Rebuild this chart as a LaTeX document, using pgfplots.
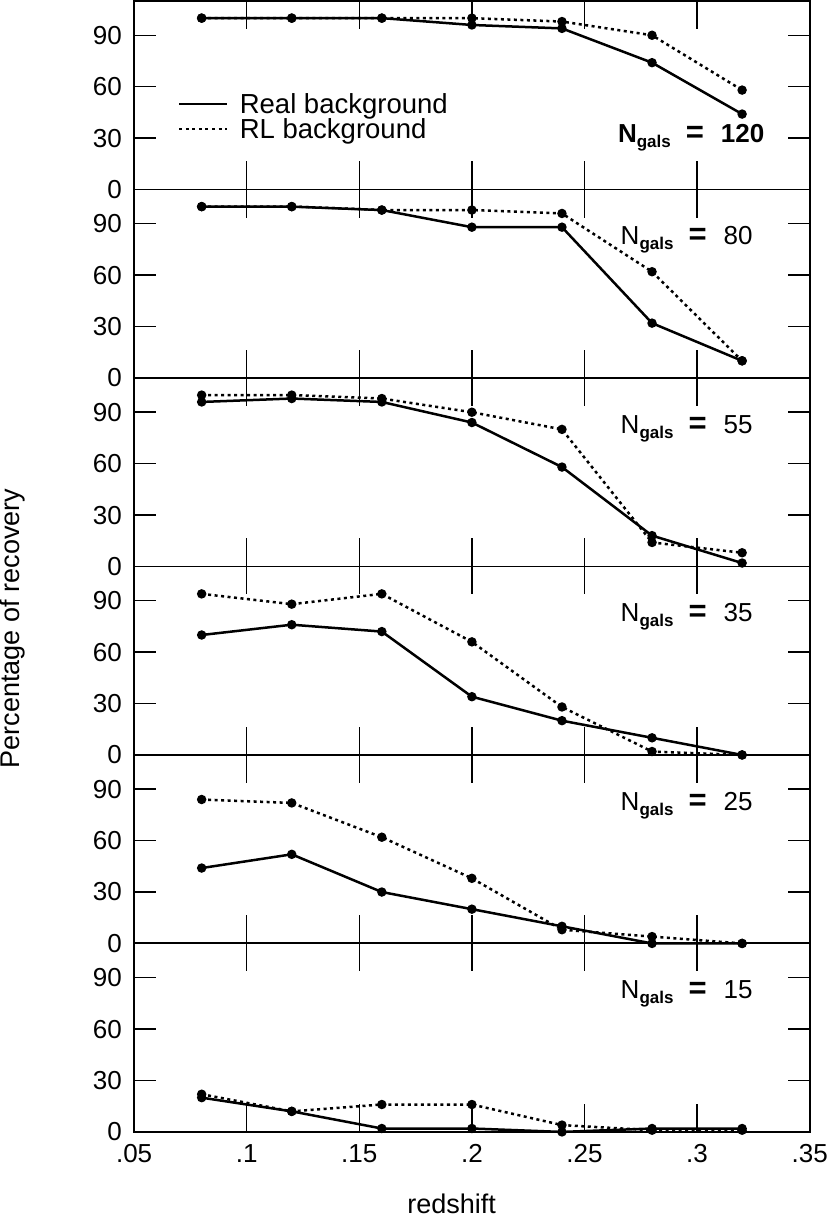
\documentclass[border=0pt]{standalone}
\usepackage{fontspec}
\setmainfont{Liberation Sans}
\usepackage{pgfplots}
\pgfplotsset{compat=1.18}
\pgfplotsset{
  panel/.style={
    width=675pt, height=188.333pt, scale only axis,
    xmin=0.05, xmax=0.35, ymin=0, ymax=110,
    xtick={0.05,0.1,0.15,0.2,0.25,0.3,0.35},
    ytick={0,30,60,90},
    xticklabels={},
    tick align=inside, xtick pos=both, ytick pos=both,
    yticklabel pos=left,
    axis line style={line width=1.9pt},
    every tick/.style={black, line width=1.5pt},
    xtick style={/pgfplots/major tick length=28pt},
    ytick style={/pgfplots/major tick length=22pt},
    /pgf/number format/assume math mode=true,
    yticklabel style={inner sep=0pt, xshift=-12pt},
    xticklabel style={inner sep=0pt, yshift=-12pt},
    anchor=south west, clip=false,
  },
  real/.style={black, line width=2.5pt, mark=*, mark size=3.4pt},
  rl/.style={black, line width=2.5pt, dash pattern=on 3pt off 3.5pt, mark=*, mark size=3.4pt, mark options={solid}},
}
\newcommand{\ngals}[1]{N\raisebox{-5pt}{\fontsize{17}{17}\selectfont\bfseries gals}\hspace{15pt}{\fontsize{31}{31}\selectfont\bfseries=}\hspace{17pt}#1}
\begin{document}
\begin{tikzpicture}[font=\fontsize{26}{31}\selectfont]
\useasboundingbox (-134pt,-86pt) rectangle (696pt,1131pt);

% Panel 1: N=120
\begin{axis}[panel, at={(0pt,941.667pt)},
  legend style={at={(axis description cs:0.065,0.52)}, anchor=north west, draw=none, fill=none, inner sep=0pt, row sep=0pt, column sep=12pt,
    nodes={inner sep=0pt, anchor=west, text height=22pt, text depth=3pt, font=\fontsize{27.5}{31}\selectfont}},
  legend image code/.code={\draw[#1] (0pt,0pt) -- (47pt,0pt);},
  legend cell align=left]
\addplot[real] coordinates {(0.08,100) (0.12,100) (0.16,100) (0.2,96) (0.24,94) (0.28,74) (0.32,44)};
\addlegendentry{Real background}
\addplot[rl] coordinates {(0.08,100) (0.12,100) (0.16,100) (0.2,100) (0.24,98) (0.28,90) (0.32,58)};
\addlegendentry{RL background}
\node[anchor=base west, inner sep=0pt, font=\fontsize{26}{31}\selectfont\bfseries] at (axis description cs:0.716,0.25) {\ngals{120}};
\end{axis}

% Panel 2: N=80
\begin{axis}[panel, at={(0pt,753.333pt)}]
\addplot[real] coordinates {(0.08,100) (0.12,100) (0.16,98) (0.2,88) (0.24,88) (0.28,32) (0.32,10)};
\addplot[rl] coordinates {(0.08,100) (0.12,100) (0.16,98) (0.2,98) (0.24,96) (0.28,62) (0.32,10)};
\node[anchor=base west, inner sep=0pt] at (axis description cs:0.72,0.706) {\ngals{80}};
\end{axis}

% Panel 3: N=55
\begin{axis}[panel, at={(0pt,565pt)}]
\addplot[real] coordinates {(0.08,96) (0.12,98) (0.16,96) (0.2,84) (0.24,58) (0.28,18) (0.32,2)};
\addplot[rl] coordinates {(0.08,100) (0.12,100) (0.16,98) (0.2,90) (0.24,80) (0.28,14) (0.32,8)};
\node[anchor=base west, inner sep=0pt] at (axis description cs:0.72,0.706) {\ngals{55}};
\end{axis}

% Panel 4: N=35
\begin{axis}[panel, at={(0pt,376.667pt)}]
\addplot[real] coordinates {(0.08,70) (0.12,76) (0.16,72) (0.2,34) (0.24,20) (0.28,10) (0.32,0)};
\addplot[rl] coordinates {(0.08,94) (0.12,88) (0.16,94) (0.2,66) (0.24,28) (0.28,2) (0.32,0)};
\node[anchor=base west, inner sep=0pt] at (axis description cs:0.72,0.706) {\ngals{35}};
\end{axis}

% Panel 5: N=25
\begin{axis}[panel, at={(0pt,188.333pt)}]
\addplot[real] coordinates {(0.08,44) (0.12,52) (0.16,30) (0.2,20) (0.24,10) (0.28,0) (0.32,0)};
\addplot[rl] coordinates {(0.08,84) (0.12,82) (0.16,62) (0.2,38) (0.24,8) (0.28,4) (0.32,0)};
\node[anchor=base west, inner sep=0pt] at (axis description cs:0.72,0.706) {\ngals{25}};
\end{axis}

% Panel 6: N=15
\begin{axis}[panel, at={(0pt,0pt)},
  xticklabels={.05,.1,.15,.2,.25,.3,.35},
  xlabel={redshift},
  xlabel style={at={(axis description cs:0.47,0)}, anchor=base, yshift=-82pt, inner sep=0pt, font=\fontsize{27}{31}\selectfont}]
\addplot[real] coordinates {(0.08,20) (0.12,12) (0.16,2) (0.2,2) (0.24,0) (0.28,2) (0.32,2)};
\addplot[rl] coordinates {(0.08,22) (0.12,12) (0.16,16) (0.2,16) (0.24,4) (0.28,1) (0.32,1)};
\node[anchor=base west, inner sep=0pt] at (axis description cs:0.72,0.706) {\ngals{15}};
\end{axis}

\node[rotate=90, anchor=center, inner sep=0pt, font=\fontsize{27}{31}\selectfont] at (-121pt,503pt) {Percentage of recovery};
\end{tikzpicture}
\end{document}
